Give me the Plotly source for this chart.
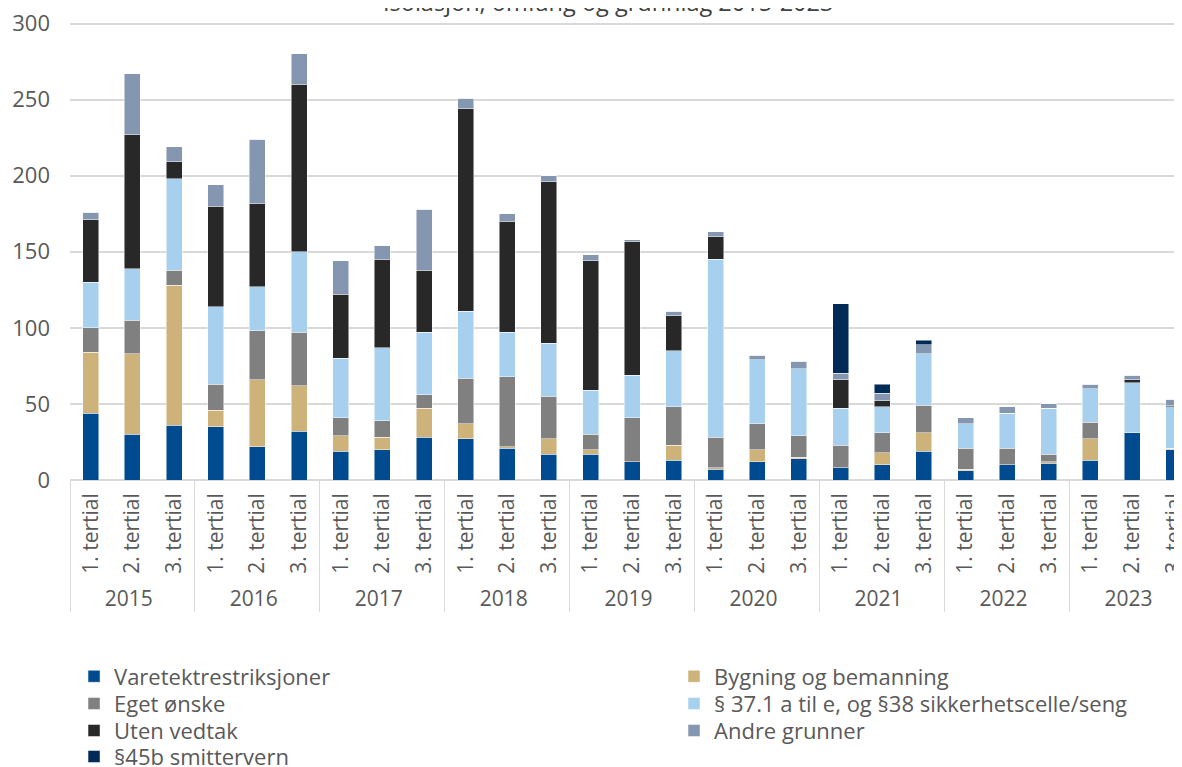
import plotly.graph_objects as go

years = ["2015", "2016", "2017", "2018", "2019", "2020", "2021", "2022", "2023"]
tertials = ["1. tertial", "2. tertial", "3. tertial"]

varetekt = [44, 30, 36, 35, 22, 32, 19, 20, 28, 27, 21, 17, 17, 12, 13, 7, 12, 14, 8, 10, 19, 6, 10, 11, 13, 31, 20]
bygning = [40, 53, 92, 11, 44, 30, 10, 8, 19, 10, 1, 10, 3, 0, 10, 1, 8, 1, 0, 8, 12, 1, 0, 1, 14, 0, 1]
eget = [16, 22, 10, 17, 32, 35, 12, 11, 9, 30, 46, 28, 10, 29, 25, 20, 17, 14, 15, 13, 18, 14, 11, 5, 11, 0, 0]
para37 = [30, 34, 60, 51, 29, 53, 39, 48, 41, 44, 29, 35, 29, 28, 37, 117, 42, 44, 24, 17, 34, 16, 23, 30, 22, 33, 27]
uten = [41, 88, 11, 66, 55, 110, 42, 58, 41, 133, 73, 106, 85, 88, 23, 15, 0, 0, 19, 4, 0, 0, 0, 0, 0, 2, 1]
andre = [5, 40, 10, 14, 42, 20, 22, 9, 40, 7, 5, 4, 4, 1, 3, 3, 3, 5, 4, 5, 6, 4, 4, 3, 3, 3, 4]
smitte = [0] * 18 + [46, 6, 3] + [0] * 6

series = [
    ("Varetektrestriksjoner", varetekt, "#004A8F"),
    ("Bygning og bemanning", bygning, "#CDB37A"),
    ("Eget ønske", eget, "#808080"),
    ("§ 37.1 a til e, og §38 sikkerhetscelle/seng", para37, "#A7D0EF"),
    ("Uten vedtak", uten, "#282828"),
    ("Andre grunner", andre, "#8597B0"),
    ("§45b smittervern", smitte, "#002B57"),
]

# legend slot (column, row) for each series, as in the reference two-column legend
legend_slots = [(0, 0), (1, 0), (0, 1), (1, 1), (0, 2), (1, 2), (0, 3)]

x_outer = [y for y in years for _ in tertials]
x_inner = [t for _ in years for t in tertials]

FONT = "Open Sans"
TXT = "#595959"

PLOT_H = 458.5
def py(fig_y):
    """paper y for a figure-pixel y (plot top at 13.5, bottom at 472)"""
    return (472 - fig_y) / PLOT_H

fig = go.Figure()
layout_legends = {}
col_x = [0.0036, 0.5393]
row_y = [py(668.7), py(696), py(723), py(749)]
for i, (name, vals, col) in enumerate(series):
    key = "legend" if i == 0 else f"legend{i + 1}"
    fig.add_trace(go.Bar(
        x=[x_outer, x_inner], y=vals, name=name, legend=key, showlegend=True,
        marker=dict(color=col, line=dict(color="rgba(255,255,255,0.6)", width=0.8)),
    ))
    c, r = legend_slots[i]
    layout_legends[key] = dict(
        x=col_x[c], y=row_y[r], xanchor="left", yanchor="middle", visible=True,
        bgcolor="rgba(0,0,0,0)", font=dict(family=FONT, size=22, color=TXT),
        itemwidth=30,
    )

fig.update_layout(
    showlegend=True,
    barmode="stack",
    bargap=0.616,
    width=1182, height=767,
    paper_bgcolor="white", plot_bgcolor="white",
    margin=dict(l=62, r=0, t=13.5, b=295, autoexpand=False),
    font=dict(family=FONT, color=TXT, size=20),
    yaxis=dict(range=[0, 301], tickvals=[0, 50, 100, 150, 200, 250, 300],
               showgrid=True, gridcolor="#D9D9D9", gridwidth=1.5,
               zeroline=True, zerolinecolor="#D9D9D9", zerolinewidth=1.5, automargin=False,
               ticklabeloverflow="allow",
               tickfont=dict(family=FONT, size=22, color=TXT), ticklabelstandoff=19),
    xaxis=dict(type="multicategory", range=[-0.5, 26.39], tickangle=-90, showdividers=True,
               dividercolor="#D9D9D9", dividerwidth=1.2, showline=False, automargin=False,
               ticklabelstandoff=8,
               tickfont=dict(family=FONT, size=21, color=TXT)),
    annotations=[dict(text="Isolasjon, omfang og grunnlag 2015-2023", xref="paper", yref="paper",
                      x=0.4804, y=py(11.5), xanchor="center", yanchor="bottom", showarrow=False,
                      font=dict(family=FONT, size=23.5, color="#404040"))],
    **layout_legends,
)

fig.write_html("out.html")
